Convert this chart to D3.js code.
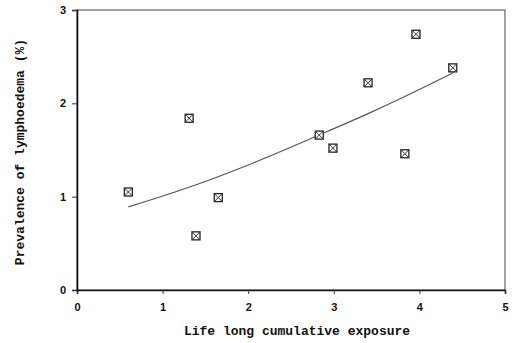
<!DOCTYPE html>
<html>
<head>
<meta charset="utf-8">
<script src="https://cdn.jsdelivr.net/npm/d3@7"></script>
<style>
  body { margin: 0; background: #fff; }
</style>
</head>
<body>
<div id="chart"></div>
<script>
let w = 514;
let h = 343;
let margin = {top: 10, right: 9, bottom: 53, left: 77};

// observed points
let exposure   = [0.60, 1.31, 1.39, 1.65, 2.83, 2.99, 3.40, 3.83, 3.96, 4.39];
let prevalence = [1.05, 1.84, 0.58, 0.99, 1.66, 1.52, 2.22, 1.46, 2.74, 2.38];

// fitted curve
let fitX = [0.60, 1.40, 2.00, 2.80, 3.40, 3.80, 4.40];
let fitY = [0.89, 1.13, 1.34, 1.65, 1.89, 2.06, 2.33];

let xTicks = [0, 1, 2, 3, 4, 5];
let yTicks = [0, 1, 2, 3];

let viz = d3.select("#chart")
  .append("svg")
    .attr("width", w)
    .attr("height", h);

let xScale = d3.scaleLinear().domain([0, 5]).range([margin.left, w - margin.right]);
let yScale = d3.scaleLinear().domain([0, 3]).range([h - margin.bottom, margin.top]);

// frame
viz.append("rect")
  .attr("x", xScale(0))
  .attr("y", yScale(3))
  .attr("width", xScale(5) - xScale(0))
  .attr("height", yScale(0) - yScale(3))
  .attr("fill", "none")
  .attr("stroke", "#444")
  .attr("stroke-width", 1);

let xAxis = d3.axisBottom(xScale).tickValues(xTicks).tickSize(4).tickPadding(9).tickFormat(d3.format("d"));
let yAxis = d3.axisLeft(yScale).tickValues(yTicks).tickSize(5).tickPadding(6).tickFormat(d3.format("d"));

let xg = viz.append("g")
  .attr("transform", "translate(0," + yScale(0) + ")")
  .call(xAxis);
let yg = viz.append("g")
  .attr("transform", "translate(" + xScale(0) + ",0)")
  .call(yAxis);

[xg, yg].forEach(function(g){
  g.select(".domain").attr("stroke", "#111").attr("stroke-width", 1.6);
  g.selectAll(".tick line").attr("stroke", "#333");
  g.selectAll(".tick text")
    .attr("fill", "#111")
    .style("font-family", "'Liberation Sans', Arial, sans-serif")
    .style("font-weight", "bold")
    .style("font-size", "11px");
});

// fitted curve
let line = d3.line()
  .x(function(d){ return xScale(d[0]); })
  .y(function(d){ return yScale(d[1]); })
  .curve(d3.curveMonotoneX);

viz.append("path")
  .datum(d3.zip(fitX, fitY))
  .attr("d", line)
  .attr("fill", "none")
  .attr("stroke", "#555")
  .attr("stroke-width", 1.2);

// square markers with a cross
let s = 4;
let pts = viz.selectAll(".pt").data(d3.zip(exposure, prevalence)).enter()
  .append("g")
    .attr("class", "pt")
    .attr("transform", function(d){ return "translate(" + xScale(d[0]) + "," + yScale(d[1]) + ")"; });

pts.append("rect")
  .attr("x", -s).attr("y", -s)
  .attr("width", 2 * s).attr("height", 2 * s)
  .attr("fill", "#fff")
  .attr("stroke", "#222")
  .attr("stroke-width", 1.3);
pts.append("path")
  .attr("d", "M" + (-s) + "," + (-s) + "L" + s + "," + s + "M" + s + "," + (-s) + "L" + (-s) + "," + s)
  .attr("stroke", "#333")
  .attr("stroke-width", 1);

// axis titles
viz.append("text")
  .text("Life long cumulative exposure")
  .attr("x", 297)
  .attr("y", 335)
  .attr("text-anchor", "middle")
  .attr("fill", "#111")
  .style("font-family", "'Liberation Mono', 'Courier New', monospace")
  .style("font-weight", "bold")
  .style("font-size", "13px");

viz.append("text")
  .text("Prevalence of lymphoedema (%)")
  .attr("transform", "translate(24,152) rotate(-90)")
  .attr("text-anchor", "middle")
  .attr("fill", "#111")
  .style("font-family", "'Liberation Mono', 'Courier New', monospace")
  .style("font-weight", "bold")
  .style("font-size", "13px");
</script>
</body>
</html>
